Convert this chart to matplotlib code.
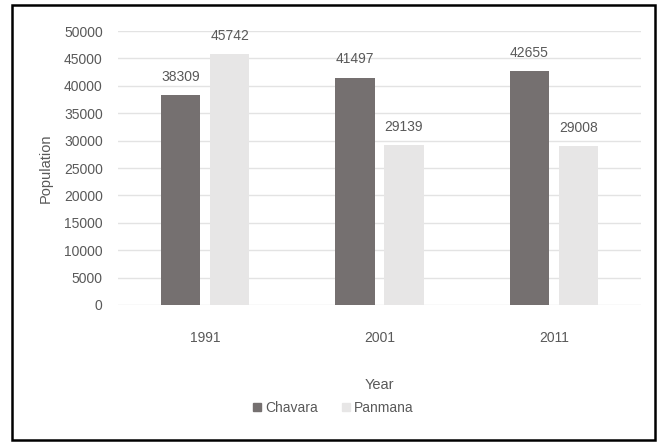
import matplotlib
matplotlib.use("Agg")
import matplotlib.pyplot as plt
import numpy as np
from matplotlib.patches import Rectangle

years = ["1991", "2001", "2011"]
chavara = [38309, 41497, 42655]
panmana = [45742, 29139, 29008]
yticks = [0, 5000, 10000, 15000, 20000, 25000, 30000, 35000, 40000, 45000, 50000]

plt.rcParams['font.family'] = ['Liberation Sans', 'DejaVu Sans']
txt = '#595959'
c_dark = '#757070'
c_light = '#e7e6e6'

fig = plt.figure(figsize=(6.61, 4.44), dpi=100)
W, H = 661, 444
ax = fig.add_axes([118 / W, 1 - 305 / H, (641 - 118) / W, (305 - 31) / H])

x = np.arange(len(years))
w = 0.225
off = 0.14
b1 = ax.bar(x - off, chavara, w, color=c_dark, label='Chavara', zorder=3)
b2 = ax.bar(x + off, panmana, w, color=c_light, label='Panmana', zorder=3)

for bars, vals in ((b1, chavara), (b2, panmana)):
    for r, v in zip(bars, vals):
        ax.annotate(str(v), (r.get_x() + r.get_width() / 2, v), xytext=(0, 8),
                    textcoords='offset points', ha='center', va='bottom',
                    fontsize=10, color=txt)

ax.set_xlim(-0.5, 2.5)
ax.set_ylim(0, 50000)
ax.set_yticks(yticks)
ax.set_yticklabels([str(t) for t in yticks])
ax.set_xticks(x)
ax.set_xticklabels(years)
ax.tick_params(axis='both', length=0, labelsize=10, labelcolor=txt)
ax.tick_params(axis='y', pad=11)
ax.tick_params(axis='x', pad=19)
ax.grid(axis='y', color='#e3e3e3', linewidth=1, zorder=0)
for s in ax.spines.values():
    s.set_visible(False)

fig.text(46 / W, 1 - 168 / H, 'Population', rotation=90, ha='center', va='center',
         fontsize=10.5, color=txt)
fig.text(379 / W, 1 - 385 / H, 'Year', ha='center', va='center', fontsize=10.5, color=txt)

handles = [plt.Line2D([], [], marker='s', linestyle='none', markersize=6, color=c_dark),
           plt.Line2D([], [], marker='s', linestyle='none', markersize=6, color=c_light)]
fig.legend(handles, ['Chavara', 'Panmana'], loc='center', bbox_to_anchor=(332 / W, 1 - 408 / H),
           ncol=2, frameon=False, fontsize=10, labelcolor=txt, handletextpad=0.1,
           columnspacing=1.5, handlelength=1.0)

fig.add_artist(Rectangle((12 / W, 1 - 440 / H), (655 - 12) / W, (440 - 5) / H,
                         transform=fig.transFigure, fill=False, edgecolor='black',
                         linewidth=1.8))

fig.savefig('out.png', dpi=100)
